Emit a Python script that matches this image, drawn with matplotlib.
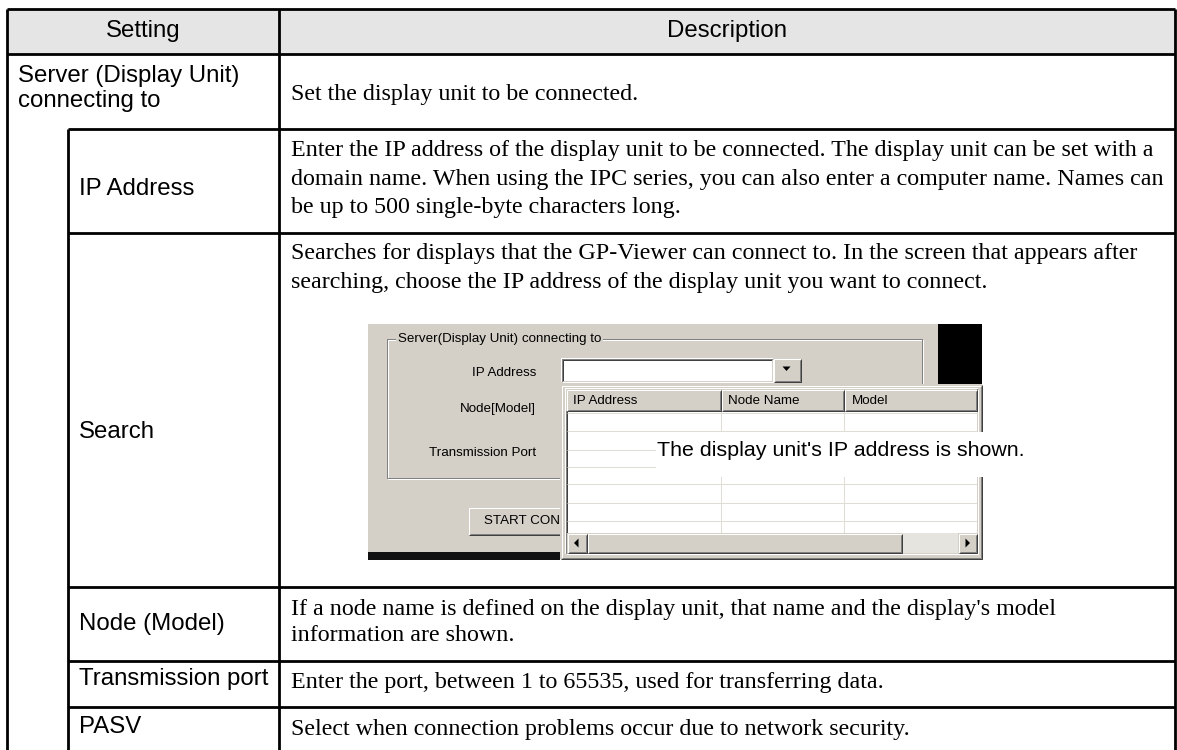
import matplotlib
matplotlib.use('Agg')
import matplotlib.pyplot as plt
from matplotlib.patches import Rectangle, Polygon

# ---- table content ----
headers = ['Setting', 'Description']
settings = ['Server (Display Unit)\nconnecting to', 'IP Address', 'Search',
            'Node (Model)', 'Transmission port', 'PASV']
indent = [0, 1, 1, 1, 1, 1]
descriptions = [
    'Set the display unit to be connected.',
    'Enter the IP address of the display unit to be connected. The display unit can be set with a\n'
    'domain name. When using the IPC series, you can also enter a computer name. Names can\n'
    'be up to 500 single-byte characters long.',
    'Searches for displays that the GP-Viewer can connect to. In the screen that appears after\n'
    'searching, choose the IP address of the display unit you want to connect.',
    "If a node name is defined on the display unit, that name and the display's model\n"
    'information are shown.',
    'Enter the port, between 1 to 65535, used for transferring data.',
    'Select when connection problems occur due to network security.',
]

# ---- embedded dialog content ----
dialog_title = 'Server(Display Unit) connecting to'
dialog_labels = ['IP Address', 'Node[Model]', 'Transmission Port']
list_columns = ['IP Address', 'Node Name', 'Model']
button_text = 'START CONNECTION'
callout = "The display unit's IP address is shown."

# ---- layout (pixels, y down) ----
W, H = 1177, 750
LEFT, RIGHT, TOP, HEAD_B = 7, 1175, 9, 54
COL, INDENT = 279, 68
row_edges = [54, 129, 233, 587, 661, 707, 760]
set_base = [[82, 107], [195], [438], [630], [685], [733]]
desc_base = [[100], [156, 185, 213], [259, 288], [615, 641], [688], [735]]
dlg_label_y = [373, 409, 453]
list_col_x = [566, 721, 844, 977]
list_col_text_x = [573, 728, 852]
list_row_y = [413, 431, 450, 467, 484, 503, 521]

SANS = ['Liberation Sans', 'DejaVu Sans']
SERIF = ['Liberation Serif', 'DejaVu Serif']
FS = 17.3
UI_FS = 9.6
PX = 0.72
GRAY = '#D4D0C8'

fig = plt.figure(figsize=(W / 100, H / 100), dpi=100)
ax = fig.add_axes([0, 0, 1, 1])
ax.set_xlim(0, W)
ax.set_ylim(H, 0)
ax.axis('off')


def rect(x0, y0, x1, y1, fc, z=2):
    ax.add_patch(Rectangle((x0, y0), x1 - x0, y1 - y0, facecolor=fc,
                           edgecolor='none', zorder=z))


def line(xs, ys, c, lw=PX, z=3):
    ax.plot(xs, ys, color=c, lw=lw, zorder=z, solid_capstyle='butt')


def bevel(x0, y0, x1, y1, light, dark, z=3):
    line([x0, x0, x1], [y1, y0, y0], light, z=z)
    line([x0, x1, x1], [y1, y1, y0], dark, z=z)


def raised(x0, y0, x1, y1, z=3):
    rect(x0, y0, x1, y1, GRAY, z)
    bevel(x0 + .5, y0 + .5, x1 - .5, y1 - .5, 'white', '#404040', z + .1)
    bevel(x0 + 1.5, y0 + 1.5, x1 - 1.5, y1 - 1.5, GRAY, '#808080', z + .1)


def sunken(x0, y0, x1, y1, fc='white', z=3):
    rect(x0, y0, x1, y1, fc, z)
    bevel(x0 + .5, y0 + .5, x1 - .5, y1 - .5, '#808080', 'white', z + .1)
    bevel(x0 + 1.5, y0 + 1.5, x1 - 1.5, y1 - 1.5, '#404040', GRAY, z + .1)


# ---- table ----
rect(LEFT, TOP, RIGHT, HEAD_B, '#E5E5E5', 1)
ax.text((LEFT + COL) / 2, 37, headers[0], ha='center', va='baseline',
        fontsize=FS, family=SANS, zorder=11)
ax.text((COL + RIGHT) / 2, 37, headers[1], ha='center', va='baseline',
        fontsize=FS, family=SANS, zorder=11)

for i, (s, d) in enumerate(zip(settings, descriptions)):
    x = 18 if indent[i] == 0 else 79
    for ln, yb in zip(s.split('\n'), set_base[i]):
        ax.text(x, yb, ln, ha='left', va='baseline', fontsize=FS,
                family=SANS, zorder=11)
    for ln, yb in zip(d.split('\n'), desc_base[i]):
        ax.text(291, yb, ln, ha='left', va='baseline', fontsize=FS,
                family=SERIF, zorder=11)

TL = 2.0
line([LEFT, RIGHT], [TOP, TOP], 'black', TL, 10)
line([LEFT, RIGHT], [HEAD_B, HEAD_B], 'black', TL, 10)
for y in row_edges[1:-1]:
    line([INDENT, RIGHT], [y, y], 'black', TL, 10)
for x, y0 in [(LEFT, TOP), (RIGHT, TOP), (COL, TOP), (INDENT, row_edges[1])]:
    line([x, x], [y0, row_edges[-1]], 'black', TL, 10)

# ---- embedded dialog screenshot ----
rect(368, 324, 938, 552, GRAY, 2)
rect(938, 324, 982, 384, 'black', 2)
rect(368, 552, 560, 560, '#111111', 2)

# group box (etched)
gx0, gy0, gx1, gy1 = 387, 339, 922, 478
ax.add_patch(Rectangle((gx0 + 1, gy0 + 1), gx1 - gx0, gy1 - gy0, fill=False,
                       edgecolor='white', lw=PX, zorder=3))
ax.add_patch(Rectangle((gx0, gy0), gx1 - gx0, gy1 - gy0, fill=False,
                       edgecolor='#808080', lw=PX, zorder=3))
ax.text(398, gy0, dialog_title, ha='left', va='center', fontsize=UI_FS,
        family=SANS, zorder=4,
        bbox=dict(boxstyle='square,pad=0.15', fc=GRAY, ec='none'))

for lab, y in zip(dialog_labels, dlg_label_y):
    ax.text(536, y, lab, ha='right', va='center', fontsize=UI_FS,
            family=SANS, zorder=4)

# ip address combo box
sunken(561, 358, 773, 382)
raised(773, 358, 801, 382)
ax.add_patch(Polygon([(782.5, 366.5), (790.5, 366.5), (786.5, 371)],
                     closed=True, fc='black', ec='none', zorder=4))
# edge of transmission port field
line([559.5, 559.5], [441, 464], '#808080', z=3)

# start button (mostly hidden by the list)
raised(468, 507, 620, 535)
ax.text(484, 521.5, button_text, ha='left', va='center', fontsize=UI_FS,
        family=SANS, zorder=4)

# drop-down list
rect(560, 384, 982, 559, GRAY, 5)
bevel(560.5, 384.5, 981.5, 558.5, GRAY, '#404040', 5.1)
bevel(561.5, 385.5, 980.5, 557.5, 'white', '#808080', 5.1)
rect(565, 388, 978, 554, 'white', 5.2)
bevel(565.5, 388.5, 977.5, 553.5, '#808080', 'white', 5.3)
bevel(566.5, 389.5, 976.5, 552.5, '#404040', GRAY, 5.3)

# header buttons
for i in range(3):
    raised(list_col_x[i], 389, list_col_x[i + 1], 411, z=5.4)
    ax.text(list_col_text_x[i], 401, list_columns[i], ha='left', va='center',
            fontsize=UI_FS, family=SANS, zorder=5.6)

# grid
for y in list_row_y:
    line([567, 977], [y, y], '#DEDCD4', z=5.3)
for x in list_col_x[1:3]:
    line([x, x], [411, 533], '#DEDCD4', z=5.3)

# horizontal scroll bar
rect(567, 533, 977, 553, '#E6E4DE', 5.4)
raised(567, 533, 587, 553, z=5.5)
ax.add_patch(Polygon([(574, 543), (578.5, 538.5), (578.5, 547.5)],
                     closed=True, fc='black', ec='none', zorder=5.7))
raised(587, 533, 902, 553, z=5.5)
raised(958, 533, 977, 553, z=5.5)
ax.add_patch(Polygon([(970, 543), (965.5, 538.5), (965.5, 547.5)],
                     closed=True, fc='black', ec='none', zorder=5.7))

# callout
rect(656, 432, 1036, 477, 'white', 8)
ax.text(657, 451, callout, ha='left', va='center', fontsize=15.4,
        family=SANS, zorder=9)

fig.savefig('out.png', dpi=100, facecolor='white')
